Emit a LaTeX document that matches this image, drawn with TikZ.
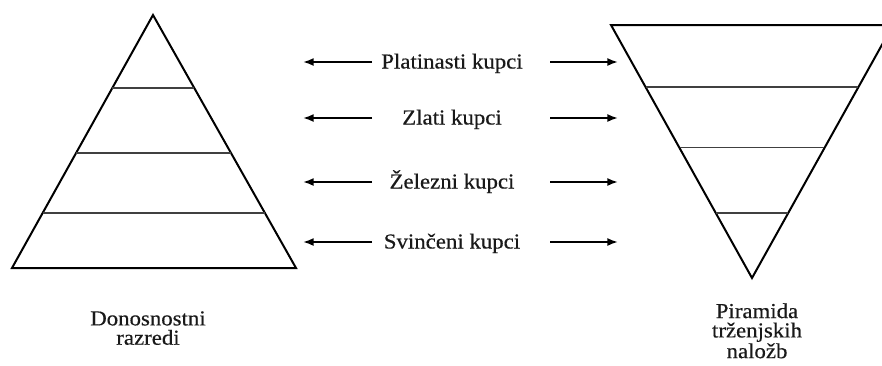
\documentclass[tikz,border=0pt]{standalone}
\usepackage{fontspec}
\setmainfont[FakeStretch=1.07,FakeBold=0.4]{Liberation Serif}
\usetikzlibrary{arrows.meta,calc}
\tikzset{
  edge/.style={line width=1.5pt, line join=miter, black},
  tier/.style={line width=0.8pt, black!75},
  lab/.style={font=\fontsize{16}{16}\selectfont, inner sep=0pt, text=black!90},
  captxt/.style={font=\fontsize{16}{14.5}\selectfont, inner sep=0pt, align=center, text=black!90},
  arr/.style={line width=1.3pt, -{Latex[length=8pt,width=6pt]}}
}
\begin{document}
\begin{tikzpicture}[x=0.75pt,y=-0.75pt]
\useasboundingbox (0,0) rectangle (882,365);
\clip (0,0) rectangle (882,365);
% left pyramid
\coordinate (A) at (153,15);
\coordinate (BL) at (12,268);
\coordinate (BR) at (296,268);
\draw[edge] (A) -- (BL) -- (BR) -- cycle;
\foreach \t/\n in {0.2885/1,0.5455/2,0.7826/3}{
  \coordinate (L\n a) at ($(A)!\t!(BL)$);
  \coordinate (L\n b) at ($(A)!\t!(BR)$);
  \draw[tier] (L\n a) -- (L\n b);
}
% right inverted pyramid
\coordinate (TL) at (611,25);
\coordinate (TR) at (893,25);
\coordinate (B) at (752,278);
\draw[edge] (TL) -- (TR) -- (B) -- cycle;
\foreach \t/\n in {0.245/1,0.486/2,0.743/3}{
  \coordinate (R\n a) at ($(TL)!\t!(B)$);
  \coordinate (R\n b) at ($(TR)!\t!(B)$);
  \draw[tier] (R\n a) -- (R\n b);
}
% labels and arrows
\foreach \y/\txt/\n in {62/Platinasti kupci/1,118/Zlati kupci/2,182/Železni kupci/3,242/Svinčeni kupci/4}{
  \node[lab, anchor=base] (k\n) at (452,\y+6.5) {\txt};
  \coordinate (ls\n) at (372,\y);
  \coordinate (le\n) at (303,\y);
  \coordinate (rs\n) at (550,\y);
  \coordinate (re\n) at (618,\y);
  \draw[arr] (ls\n) -- (le\n);
  \draw[arr] (rs\n) -- (re\n);
}
\node[captxt, anchor=north] (dr) at (148,311) {Donosnostni\\razredi};
\node[captxt, anchor=north] (pt) at (757,303) {Piramida\\trženjskih\\naložb};
\end{tikzpicture}
\end{document}
